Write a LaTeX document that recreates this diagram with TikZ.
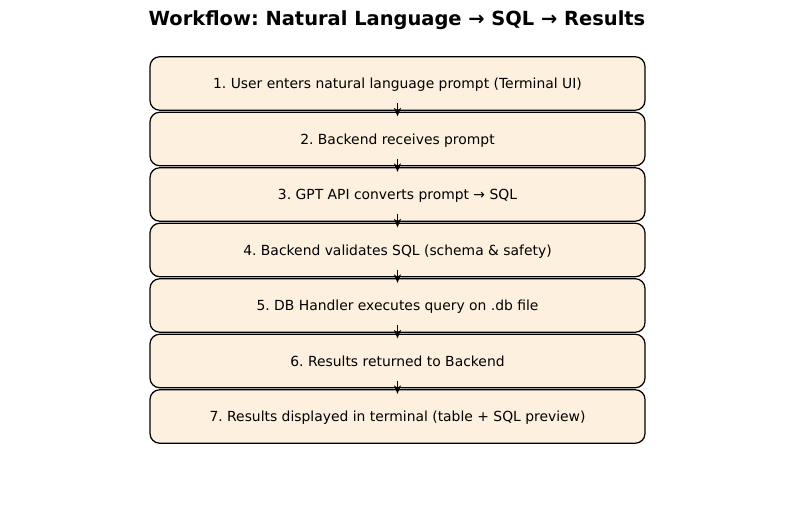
\documentclass[tikz,border=0pt]{standalone}
\usepackage{fontspec}
\setmainfont{DejaVu Sans}
\usetikzlibrary{arrows.meta}
\definecolor{stepfill}{RGB}{254,240,222}
\tikzset{
  stepbox/.style={draw=black, fill=stepfill, line width=0.9pt, rounded corners=7pt,
    minimum width=356.4pt, minimum height=38.5pt, inner sep=0pt, text depth=0pt,
    font=\fontsize{10}{12}\selectfont},
  flow/.style={line width=1.2pt, -{Stealth[length=6pt,width=5pt,inset=1.5pt]}}
}
\begin{document}
\frenchspacing
\begin{tikzpicture}[x=0.72pt,y=0.72pt,yscale=-1,xscale=1]
\path (0,0) rectangle (794,505); %set diagram size

% Text Node
\node (title) at (397,20.5) {\fontsize{14}{17}\selectfont\bfseries Workflow: Natural Language → SQL → Results};

%Shape: Steps
\node[stepbox] (s1) at (397.5,83.5) {1. User enters natural language prompt (Terminal UI)};
\node[stepbox] (s2) at (397.5,139) {2. Backend receives prompt};
\node[stepbox] (s3) at (397.5,194.5) {3. GPT API converts prompt → SQL};
\node[stepbox] (s4) at (397.5,250) {4. Backend validates SQL (schema \& safety)};
\node[stepbox] (s5) at (397.5,305.5) {5. DB Handler executes query on .db file};
\node[stepbox] (s6) at (397.5,361) {6. Results returned to Backend};
\node[stepbox] (s7) at (397.5,416.5) {7. Results displayed in terminal (table + SQL preview)};

%Arrows
\draw[flow] ([yshift=-5.4pt]s1.south) -- ([yshift=3.4pt]s2.north);
\draw[flow] ([yshift=-5.4pt]s2.south) -- ([yshift=3.4pt]s3.north);
\draw[flow] ([yshift=-5.4pt]s3.south) -- ([yshift=3.4pt]s4.north);
\draw[flow] ([yshift=-5.4pt]s4.south) -- ([yshift=3.4pt]s5.north);
\draw[flow] ([yshift=-5.4pt]s5.south) -- ([yshift=3.4pt]s6.north);
\draw[flow] ([yshift=-5.4pt]s6.south) -- ([yshift=3.4pt]s7.north);

\end{tikzpicture}
\end{document}
